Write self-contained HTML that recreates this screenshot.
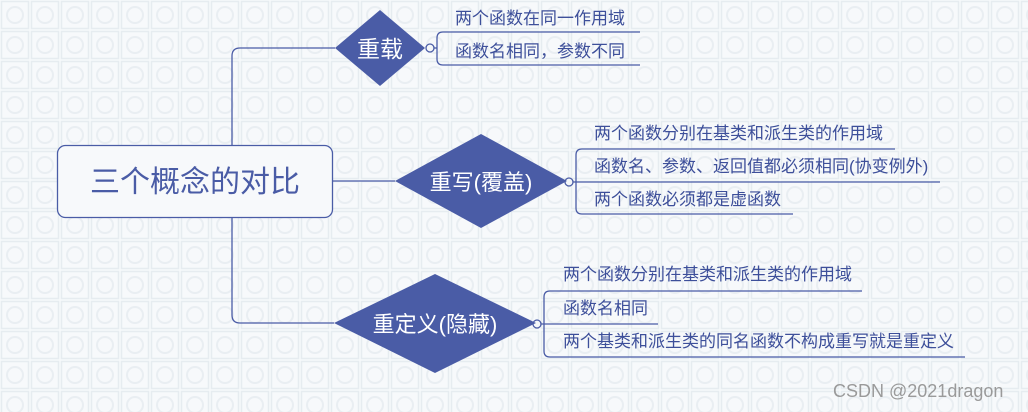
<!DOCTYPE html>
<html><head><meta charset="utf-8"><style>
html,body{margin:0;padding:0}
body{width:1028px;height:412px;overflow:hidden;background:#f4f7f9}
svg{display:block}
text{font-family:"Liberation Sans","Noto Sans CJK SC",sans-serif}
</style></head><body>
<svg width="1028" height="412" xmlns="http://www.w3.org/2000/svg">
<defs>
<pattern id="p" width="30" height="30" patternUnits="userSpaceOnUse">
<rect width="30" height="30" fill="#f7f9fb"/>
<rect x="1.5" y="1.5" width="27" height="27" fill="none" stroke="#e6ecf0" stroke-width="1.5"/>
<circle cx="15" cy="15" r="8" fill="none" stroke="#e9eef2" stroke-width="2"/>
</pattern>
</defs>
<rect width="1028" height="412" fill="url(#p)"/>
<g fill="none" stroke="#4a5ca6" stroke-width="1.3">
<path d="M335 48 H240 Q232 48 232 56 V315 Q232 323 240 323 H334"/>
<path d="M332 181 H395"/>
<path d="M434 48 H437"/>
<path d="M640 32 H443 Q437 32 437 38 V59 Q437 65 443 65 H640"/>
<path d="M573 182 H940"/>
<path d="M895 149 H582 Q576 149 576 155 V208 Q576 214 582 214 H793"/>
<path d="M541 324 H658"/>
<path d="M862 291 H550 Q544 291 544 297 V351 Q544 357 550 357 H965"/>
<circle cx="430" cy="48" r="4" fill="#f4f7f9"/>
<circle cx="569" cy="182" r="4" fill="#f4f7f9"/>
<circle cx="537" cy="324" r="4" fill="#f4f7f9"/>
</g>
<rect x="57.5" y="145.5" width="275" height="72" rx="8" fill="#f7f9fb" stroke="#4a5ca6" stroke-width="1.3"/>
<text x="195" y="192" font-size="30" fill="#4a5ca6" text-anchor="middle">三个概念的对比</text>
<polygon points="335,48 380,10 425,48 380,86" fill="#4a5ca6"/>
<polygon points="395,181 481,134 567,181 481,228" fill="#4a5ca6"/>
<polygon points="334,323 435,274 536,323 435,373" fill="#4a5ca6"/>
<text x="380" y="57" font-size="23" fill="#fff" text-anchor="middle">重载</text>
<text x="481" y="190" font-size="22" fill="#fff" text-anchor="middle">重写(覆盖)</text>
<text x="435" y="332" font-size="22" fill="#fff" text-anchor="middle">重定义(隐藏)</text>
<g font-size="17" fill="#3d4f9a">
<text x="455" y="24">两个函数在同一作用域</text>
<text x="455" y="57">函数名相同，参数不同</text>
<text x="594" y="139">两个函数分别在基类和派生类的作用域</text>
<text x="594" y="172">函数名、参数、返回值都必须相同(协变例外)</text>
<text x="594" y="205">两个函数必须都是虚函数</text>
<text x="563" y="280">两个函数分别在基类和派生类的作用域</text>
<text x="563" y="314">函数名相同</text>
<text x="563" y="347">两个基类和派生类的同名函数不构成重写就是重定义</text>
</g>
<text x="833" y="397" font-size="18" fill="#9a9a9a">CSDN @2021dragon</text>
</svg>
</body></html>
